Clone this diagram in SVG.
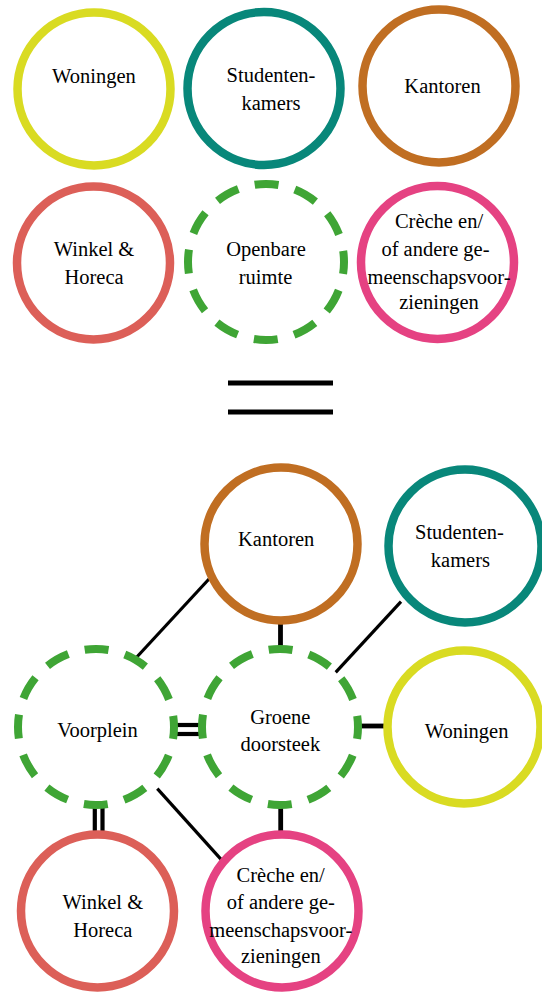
<svg xmlns="http://www.w3.org/2000/svg" width="542" height="993" viewBox="0 0 542 993">
<style>
.ring{fill:#fff;stroke-width:8.5}
.dash{fill:#fff;stroke:#3fa535;stroke-width:8;stroke-dasharray:24 16.84;stroke-dashoffset:12}
.y{stroke:#d9db22}.t{stroke:#08877a}.o{stroke:#c06e22}.r{stroke:#dc5f58}.p{stroke:#e54282}
text{font-family:'Liberation Serif','DejaVu Serif',serif;font-size:20.5px;fill:#000;text-anchor:middle}
.c line{stroke:#000;stroke-linecap:butt}
.thin{stroke-width:3.2}.thick{stroke-width:4.8}.dbl{stroke-width:4.2}
</style>
<g id="top-woningen"><circle class="ring y" cx="94" cy="89" r="76.5"/><text x="94" y="83">Woningen</text></g>
<g id="top-studenten"><circle class="ring t" cx="264" cy="88.5" r="76.5"/><text x="271" y="82.3">Studenten-</text><text x="271" y="110">kamers</text></g>
<g id="top-kantoren"><circle class="ring o" cx="439" cy="86" r="76.5"/><text x="442.5" y="93.3">Kantoren</text></g>
<g id="top-winkel"><circle class="ring r" cx="93.5" cy="263" r="76.5"/><text x="94" y="256.4">Winkel &amp;</text><text x="94" y="284">Horeca</text></g>
<g id="top-openbare"><circle class="dash" cx="266" cy="262" r="78"/><text x="266" y="256.4">Openbare</text><text x="265.5" y="284">ruimte</text></g>
<g id="top-creche"><circle class="ring p" cx="437.5" cy="262.5" r="76.5"/><text x="439" y="227.5">Crèche en/</text><text x="435.5" y="256">of andere ge-</text><text x="439" y="284">meenschapsvoor-</text><text x="439" y="309">zieningen</text></g>
<g id="equals"><line x1="228" y1="383" x2="333" y2="383" stroke="#000" stroke-width="5"/><line x1="228" y1="412" x2="333" y2="412" stroke="#000" stroke-width="5"/></g>
<g id="connectors" class="c">
<line class="thin" x1="209" y1="579" x2="135" y2="659"/>
<line class="thick" x1="280.5" y1="617" x2="280.5" y2="653.5"/>
<line class="thin" x1="401" y1="601.7" x2="333.6" y2="674.6"/>
<line class="dbl" x1="177" y1="725" x2="203" y2="725"/>
<line class="dbl" x1="177" y1="734" x2="203" y2="734"/>
<line class="thick" x1="356" y1="726" x2="384" y2="726"/>
<line class="thin" x1="157.3" y1="788.6" x2="224" y2="862.6"/>
<line class="dbl" x1="94.8" y1="800" x2="94.8" y2="836"/>
<line class="dbl" x1="102.5" y1="800" x2="102.5" y2="836"/>
<line class="thick" x1="280.7" y1="802" x2="280.7" y2="831.5"/>
</g>
<g id="kantoren"><circle class="ring o" cx="281" cy="544" r="76.5"/><text x="276.2" y="545.7">Kantoren</text></g>
<g id="studenten"><circle class="ring t" cx="465" cy="546" r="76.5"/><text x="459.4" y="538.8">Studenten-</text><text x="460.4" y="567.2">kamers</text></g>
<g id="voorplein"><circle class="dash" cx="96" cy="727" r="78"/><text x="97.5" y="736.8">Voorplein</text></g>
<g id="groene"><circle class="dash" cx="280" cy="727" r="78"/><text x="280.3" y="724">Groene</text><text x="280.3" y="750.6">doorsteek</text></g>
<g id="woningen"><circle class="ring y" cx="464" cy="727" r="76.5"/><text x="466.6" y="737.8">Woningen</text></g>
<g id="winkel"><circle class="ring r" cx="97.5" cy="911" r="76.5"/><text x="102.8" y="909.3">Winkel &amp;</text><text x="102.8" y="936.9">Horeca</text></g>
<g id="creche"><circle class="ring p" cx="282" cy="911" r="76.5"/><text x="280.7" y="881.6">Crèche en/</text><text x="280.8" y="909.3">of andere ge-</text><text x="280.8" y="936.9">meenschapsvoor-</text><text x="280.8" y="962.8">zieningen</text></g>
</svg>
